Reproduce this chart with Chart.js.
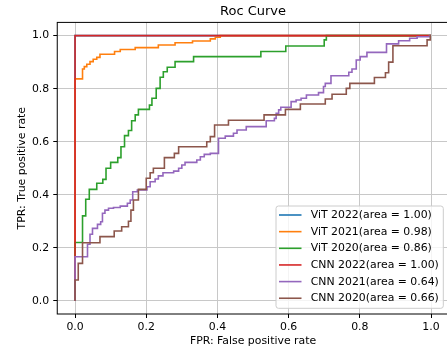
<!DOCTYPE html>
<html><head><meta charset="utf-8">
<script src="https://cdn.jsdelivr.net/npm/chart.js@4"></script>
<style>html,body{margin:0;padding:0;background:#fff;overflow:hidden;}#wrap{width:506px;height:351px;}</style>
</head><body><div id="wrap"><canvas id="c" width="506" height="351"></canvas></div>
<script>
const titleText = 'Roc Curve';
const xTitle = 'FPR: False positive rate';
const yTitle = 'TPR: True positive rate';
const xTicks = [0, 0.2, 0.4, 0.6, 0.8, 1.0];
const yTicks = [0, 0.2, 0.4, 0.6, 0.8, 1.0];
const seriesLabels = ['ViT 2022(area = 1.00)','ViT 2021(area = 0.98)','ViT 2020(area = 0.86)','CNN 2022(area = 1.00)','CNN 2021(area = 0.64)','CNN 2020(area = 0.66)'];
const seriesColors = ['#1f77b4','#ff7f0e','#2ca02c','#d62728','#9467bd','#8c564b'];

// step points: at each fpr the tpr rises to the given value
const vit2022Fpr = [0, 0, 1];
const vit2022Tpr = [0, 1, 1];
const vit2021Fpr = [0,0,0.021,0.026,0.033,0.042,0.051,0.061,0.070,0.111,0.127,0.169,0.234,0.281,0.330,0.380,0.394,0.408,1];
const vit2021Tpr = [0,0.837,0.874,0.883,0.892,0.902,0.911,0.918,0.930,0.940,0.948,0.955,0.965,0.973,0.980,0.988,0.994,1.0,1.0];
const vit2020Fpr = [0,0,0.021,0.030,0.040,0.061,0.078,0.087,0.100,0.120,0.129,0.139,0.150,0.159,0.169,0.178,0.209,0.216,0.228,0.239,0.248,0.259,0.281,0.333,0.522,0.592,0.700,0.706,1];
const vit2020Tpr = [0,0.220,0.320,0.383,0.420,0.443,0.458,0.500,0.522,0.540,0.581,0.623,0.642,0.679,0.701,0.722,0.738,0.764,0.801,0.843,0.864,0.881,0.902,0.921,0.940,0.961,0.984,1.0,1.0];
const cnn2022Fpr = [0, 0, 1];
const cnn2022Tpr = [0, 1, 1];
const cnn2021Fpr = [0,0,0.035,0.042,0.049,0.063,0.072,0.077,0.084,0.094,0.108,0.127,0.147,0.155,0.162,0.175,0.202,0.211,0.225,0.234,0.247,0.277,0.291,0.300,0.309,0.342,0.352,0.363,0.380,0.403,0.422,0.445,0.455,0.481,0.537,0.560,0.565,0.572,0.578,0.607,0.621,0.635,0.650,0.684,0.698,0.703,0.719,0.769,0.778,0.790,0.801,0.820,0.875,0.909,0.940,0.961,0.996,1];
const cnn2021Tpr = [0,0.166,0.213,0.251,0.273,0.288,0.298,0.330,0.342,0.349,0.352,0.357,0.368,0.380,0.411,0.418,0.430,0.449,0.459,0.471,0.483,0.489,0.500,0.512,0.522,0.531,0.543,0.552,0.556,0.613,0.621,0.632,0.644,0.657,0.679,0.688,0.707,0.720,0.730,0.751,0.757,0.764,0.776,0.785,0.808,0.820,0.849,0.862,0.874,0.908,0.921,0.937,0.969,0.981,0.990,0.996,1.0,1.0];
const cnn2020Fpr = [0,0,0.009,0.021,0.070,0.110,0.131,0.150,0.157,0.164,0.178,0.200,0.211,0.220,0.251,0.279,0.291,0.370,0.380,0.392,0.431,0.531,0.591,0.633,0.703,0.722,0.762,0.772,0.841,0.872,0.881,0.893,0.989,0.998,1];
const cnn2020Tpr = [0,0.078,0.141,0.219,0.242,0.263,0.279,0.300,0.342,0.380,0.420,0.462,0.483,0.500,0.540,0.556,0.581,0.600,0.619,0.663,0.681,0.701,0.722,0.742,0.761,0.779,0.801,0.820,0.842,0.860,0.900,0.962,0.984,1.0,1.0];

const FONT = '"DejaVu Sans", sans-serif';
const seriesFpr = [vit2022Fpr, vit2021Fpr, vit2020Fpr, cnn2022Fpr, cnn2021Fpr, cnn2020Fpr];
const seriesTpr = [vit2022Tpr, vit2021Tpr, vit2020Tpr, cnn2022Tpr, cnn2021Tpr, cnn2020Tpr];

const datasets = seriesLabels.map((lab, i) => ({
  label: lab,
  data: seriesFpr[i].map((x, k) => ({x: x, y: seriesTpr[i][k]})),
  borderColor: seriesColors[i],
  backgroundColor: seriesColors[i],
  borderWidth: 1.6,
  pointRadius: 0,
  stepped: 'before',
  fill: false,
  order: -i
}));

const framePlugin = {
  id: 'frame',
  afterDatasetsDraw(chart) {
    const a = chart.chartArea, c = chart.ctx;
    c.save();
    c.strokeStyle = '#000';
    c.lineWidth = 1;
    c.strokeRect(a.left, a.top, a.right - a.left, a.bottom - a.top);
    c.restore();
  }
};

const legendPlugin = {
  id: 'innerLegend',
  afterDraw(chart) {
    const c = chart.ctx;
    const bx = 276, by = 206, bw = 167.3, bh = 102.3;
    c.save();
    c.beginPath();
    c.roundRect(bx, by, bw, bh, 2.5);
    c.fillStyle = 'rgba(255,255,255,0.8)';
    c.fill();
    c.strokeStyle = '#cccccc';
    c.lineWidth = 1;
    c.stroke();
    c.font = '10.9px ' + FONT;
    c.textBaseline = 'middle';
    c.textAlign = 'left';
    chart.data.datasets.forEach((ds, i) => {
      const y = by + 9 + i * 16.65;
      c.beginPath();
      c.moveTo(bx + 3, y);
      c.lineTo(bx + 25.5, y);
      c.strokeStyle = ds.borderColor;
      c.lineWidth = 1.6;
      c.stroke();
      c.fillStyle = '#000';
      c.fillText(ds.label, bx + 34.7, y + 0.3);
    });
    c.restore();
  }
};

new Chart(document.getElementById('c'), {
  type: 'line',
  data: {datasets: datasets},
  options: {
    responsive: false,
    animation: false,
    devicePixelRatio: 1,
    layout: {padding: {left: 0, right: 57.2, top: 0, bottom: 0}},
    plugins: {
      legend: {display: false},
      tooltip: {enabled: false},
      title: {display: true, text: titleText, color: '#000', fullSize: false,
        font: {family: FONT, size: 13, weight: 'normal', lineHeight: 1.2},
        padding: {top: 3.9, bottom: 2.9}}
    },
    scales: {
      x: {
        type: 'linear', min: -0.05, max: 1.05,
        afterBuildTicks: s => { s.ticks = xTicks.map(v => ({value: v})); },
        afterFit: s => { s.height = 37; },
        ticks: {callback: v => Number(v).toFixed(1), color: '#000', font: {family: FONT, size: 10.9}, padding: 3, maxRotation: 0, autoSkip: false},
        grid: {color: '#c8c8c8', lineWidth: 1, tickColor: '#000', tickLength: 4, tickWidth: 1},
        border: {display: false},
        title: {display: true, text: xTitle, color: '#000', font: {family: FONT, size: 10.9, lineHeight: 1.2}, padding: {top: 0, bottom: 3.5}}
      },
      y: {
        type: 'linear', min: -0.05, max: 1.05,
        afterBuildTicks: s => { s.ticks = yTicks.map(v => ({value: v})); },
        afterFit: s => { s.width = 57.25; },
        ticks: {callback: v => Number(v).toFixed(1), color: '#000', font: {family: FONT, size: 10.9}, padding: 4, autoSkip: false},
        grid: {color: '#c8c8c8', lineWidth: 1, tickColor: '#000', tickLength: 4, tickWidth: 1},
        border: {display: false},
        title: {display: true, text: yTitle, color: '#000', font: {family: FONT, size: 10.9, lineHeight: 1.2}, padding: {top: 15.2, bottom: 0}}
      }
    }
  },
  plugins: [framePlugin, legendPlugin]
});
</script>
</body></html>
